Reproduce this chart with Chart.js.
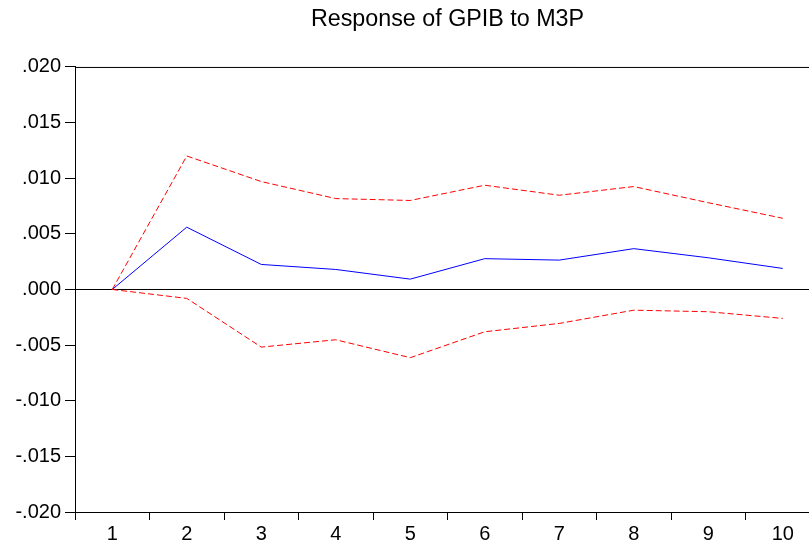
<!DOCTYPE html>
<html>
<head>
<meta charset="utf-8">
<script src="https://cdn.jsdelivr.net/npm/chart.js@4.4.1/dist/chart.umd.min.js"></script>
<style>
  html, body { margin: 0; padding: 0; background: #fff; overflow: hidden; }
  #wrap { width: 895px; height: 545px; }
</style>
</head>
<body>
<div id="wrap"><canvas id="c" width="895" height="545"></canvas></div>
<script>
const periods = ['1','2','3','4','5','6','7','8','9','10'];
const response = [0, 0.0056, 0.00225, 0.0018, 0.00093, 0.00277, 0.00264, 0.00367, 0.00285, 0.00189];
const upperBand = [0, 0.0120, 0.0097, 0.00817, 0.0080, 0.00937, 0.00847, 0.00925, 0.0078, 0.0064];
const lowerBand = [0, -0.0008, -0.00518, -0.00452, -0.00613, -0.0038, -0.00305, -0.00186, -0.002, -0.0026];
const yMin = -0.020, yMax = 0.020, yStep = 0.005;
const titleText = 'Response of GPIB to M3P';

const FONT = "'Liberation Sans', Arial, sans-serif";

const framePlugin = {
  id: 'frame',
  afterDraw(chart) {
    const {ctx, chartArea: a} = chart;
    ctx.save();
    ctx.strokeStyle = '#000';
    ctx.lineWidth = 1;
    ctx.beginPath();
    ctx.moveTo(a.left + 0.5, a.bottom + 0.5);
    ctx.lineTo(a.left + 0.5, a.top + 0.5);
    ctx.lineTo(a.right + 0.5, a.top + 0.5);
    ctx.lineTo(a.right + 0.5, a.bottom + 0.5);
    ctx.closePath();
    ctx.stroke();
    ctx.restore();
  }
};

new Chart(document.getElementById('c'), {
  type: 'line',
  data: {
    labels: periods,
    datasets: [
      { data: upperBand, borderColor: '#FF0000', borderWidth: 1, borderDash: [6, 3], pointRadius: 0, tension: 0, fill: false },
      { data: lowerBand, borderColor: '#FF0000', borderWidth: 1, borderDash: [6, 3], pointRadius: 0, tension: 0, fill: false },
      { data: response, borderColor: '#0000FF', borderWidth: 1, pointRadius: 0, tension: 0, fill: false }
    ]
  },
  options: {
    responsive: false,
    animation: false,
    events: [],
    layout: { autoPadding: false, padding: { left: 0, right: 75, top: 0, bottom: 0 } },
    plugins: {
      legend: { display: false },
      tooltip: { enabled: false },
      title: {
        display: true,
        fullSize: false,
        text: titleText,
        color: '#000',
        font: { family: FONT, size: 23.3, weight: 'normal', lineHeight: 1.2 },
        padding: { top: 6, bottom: 33.0 }
      }
    },
    scales: {
      x: {
        offset: true,
        grid: { offset: true, drawOnChartArea: false, tickLength: 8, color: '#000', tickColor: '#000', lineWidth: 1 },
        border: { display: true, color: '#000', width: 1 },
        ticks: { color: '#000', font: { family: FONT, size: 20 }, padding: 2, maxRotation: 0, autoSkip: false },
        afterFit(s) { s.height = 33; }
      },
      y: {
        min: yMin, max: yMax,
        grid: {
          drawOnChartArea: true,
          tickLength: 10,
          color: (c) => (c.tick && Math.abs(c.tick.value) < 1e-9) ? '#000' : 'rgba(0,0,0,0)',
          tickColor: '#000',
          lineWidth: 1
        },
        border: { display: true, color: '#000', width: 1 },
        ticks: {
          stepSize: yStep,
          color: '#000',
          padding: 4,
          font: { family: FONT, size: 20 },
          callback: (v) => {
            const s = Math.abs(v) < 1e-9 ? '0.000' : Number(v).toFixed(3);
            return s.replace(/^(-?)0\./, '$1.');
          }
        },
        afterFit(s) { s.width = 75; }
      }
    }
  },
  plugins: [framePlugin]
});
</script>
</body>
</html>
